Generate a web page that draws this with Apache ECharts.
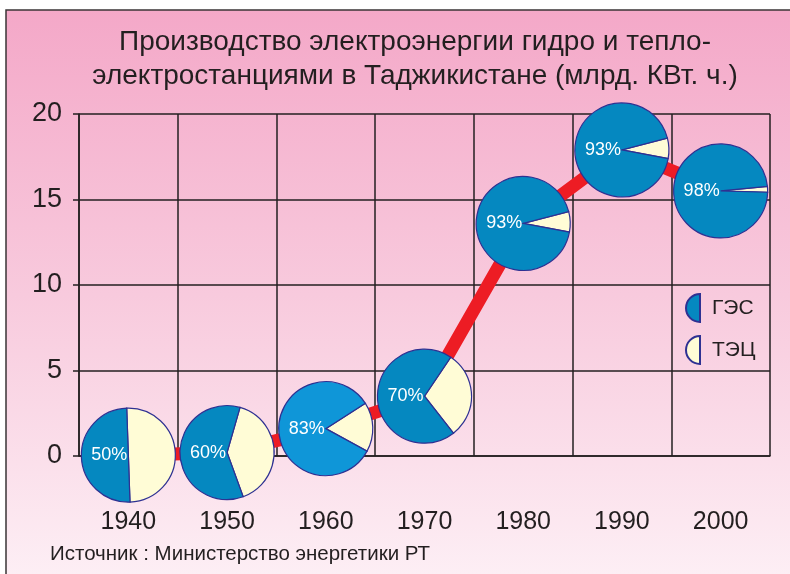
<!DOCTYPE html>
<html>
<head>
<meta charset="utf-8">
<script src="https://cdn.jsdelivr.net/npm/echarts@6/dist/echarts.min.js"></script>
<style>
html,body{margin:0;padding:0;background:#fff;}
#main{width:790px;height:574px;}
</style>
</head>
<body>
<div id="main"></div>
<script>
//годы
var years = ['1940','1950','1960','1970','1980','1990','2000'];
//выработка всего, млрд кВт.ч
var output = [0.05, 0.2, 1.6, 3.5, 13.6, 17.9, 15.5];
//доля ГЭС, %
var gesShare = [50, 60, 83, 70, 93, 93, 98];
var yTicks = [0, 5, 10, 15, 20];
var titleLines = ['Производство электроэнергии гидро и тепло-', 'электростанциями в Таджикистане (млрд. КВт. ч.)'];
var sourceText = 'Источник : Министерство энергетики РТ';

var FONT = '"Liberation Sans", Arial, sans-serif';
var TXT = '#231f20';
var GES_COLOR = '#0588c0';
var GES_BRIGHT = '#0f96d8';
var TES_COLOR = '#fffcd6';
var EDGE = '#2e3192';
var R = 47;
var TILT = 2 * Math.PI / 180;

var pieData = years.map(function(y, i){
	return [i, output[i], gesShare[i]];
});

//сектор круга для ГЭС или ТЭЦ
function slice(isGes){
	return function(params, api){
		var pt = api.coord([api.value(0), api.value(1)]);
		var tes = (1 - api.value(2) / 100) * Math.PI * 2;
		var mid = -TILT;
		var s, e;
		if(isGes){
			s = mid + tes / 2;
			e = mid - tes / 2 + Math.PI * 2;
		}else{
			s = mid - tes / 2;
			e = mid + tes / 2;
		}
		var fill = isGes ? (params.dataIndex == 2 ? GES_BRIGHT : GES_COLOR) : TES_COLOR;
		var children = [{
			type: 'sector',
			shape: {cx: pt[0], cy: pt[1], r: R, r0: 0, startAngle: s, endAngle: e, clockwise: true},
			style: {fill: fill, stroke: EDGE, lineWidth: 1.2}
		}];
		if(isGes){
			children.push({
				type: 'text',
				style: {
					x: pt[0] - 1, y: pt[1],
					text: api.value(2) + '%',
					fill: '#fff',
					font: '18px ' + FONT,
					textAlign: 'right',
					textVerticalAlign: 'middle'
				}
			});
		}
		return {type: 'group', children: children};
	};
}

var myChart = echarts.init(document.getElementById('main'));
var option = {
	backgroundColor: '#fff',
	animation: false,
	textStyle: {fontFamily: FONT},
	title: [
		{
			text: titleLines[0] + '\n' + titleLines[1],
			left: 410,
			top: 20,
			textAlign: 'center',
			textStyle: {fontSize: 28, lineHeight: 34, fontWeight: 'normal', color: TXT, fontFamily: FONT}
		}
	],
	graphic: [
		{
			type: 'rect',
			z: -100,
			shape: {x: 6, y: 10, width: 800, height: 570},
			style: {
				fill: new echarts.graphic.LinearGradient(0, 0, 0, 1, [
					{offset: 0, color: '#f4a8c8'},
					{offset: 0.5, color: '#f8cadd'},
					{offset: 1, color: '#fdeff5'}
				]),
				stroke: '#3a3536',
				lineWidth: 1.5
			}
		},
		{
			type: 'text',
			left: 50,
			top: 544,
			style: {text: sourceText, fill: TXT, font: '20.5px ' + FONT}
		}
	],
	legend: {
		data: ['ГЭС', 'ТЭЦ'],
		orient: 'vertical',
		left: 685,
		top: 293,
		padding: 0,
		itemWidth: 14,
		itemHeight: 28,
		itemGap: 12,
		selectedMode: false,
		icon: 'path://M14,0 A14,14 0 0,0 14,28 Z',
		textStyle: {fontSize: 21, color: TXT, padding: [0, 0, 0, 7], fontFamily: FONT}
	},
	grid: {left: 79, right: 20, top: 114, bottom: 118},
	xAxis: {
		type: 'category',
		data: years,
		boundaryGap: true,
		axisLine: {show: true, lineStyle: {color: TXT, width: 1.5}},
		axisTick: {show: false},
		axisLabel: {margin: 54, fontSize: 25, color: TXT, fontFamily: FONT},
		splitLine: {show: true, lineStyle: {color: TXT, width: 1.5}}
	},
	yAxis: {
		type: 'value',
		min: yTicks[0],
		max: yTicks[yTicks.length - 1],
		interval: 5,
		axisLine: {show: true, lineStyle: {color: TXT, width: 1.5}},
		axisTick: {show: true, length: 6, lineStyle: {color: TXT, width: 1.5}},
		axisLabel: {margin: 17, fontSize: 27, color: TXT, fontFamily: FONT},
		splitLine: {show: true, lineStyle: {color: TXT, width: 1.5}}
	},
	series: [
		{
			type: 'line',
			data: output,
			symbol: 'none',
			z: 2,
			lineStyle: {color: '#ed1c24', width: 13, cap: 'butt', join: 'round'}
		},
		{
			name: 'ТЭЦ',
			type: 'custom',
			z: 3,
			itemStyle: {color: TES_COLOR, borderColor: EDGE, borderWidth: 1.2},
			data: pieData,
			renderItem: slice(false)
		},
		{
			name: 'ГЭС',
			type: 'custom',
			z: 3,
			itemStyle: {color: GES_COLOR, borderColor: EDGE, borderWidth: 1.2},
			data: pieData,
			renderItem: slice(true)
		}
	]
};
myChart.setOption(option);
</script>
</body>
</html>
